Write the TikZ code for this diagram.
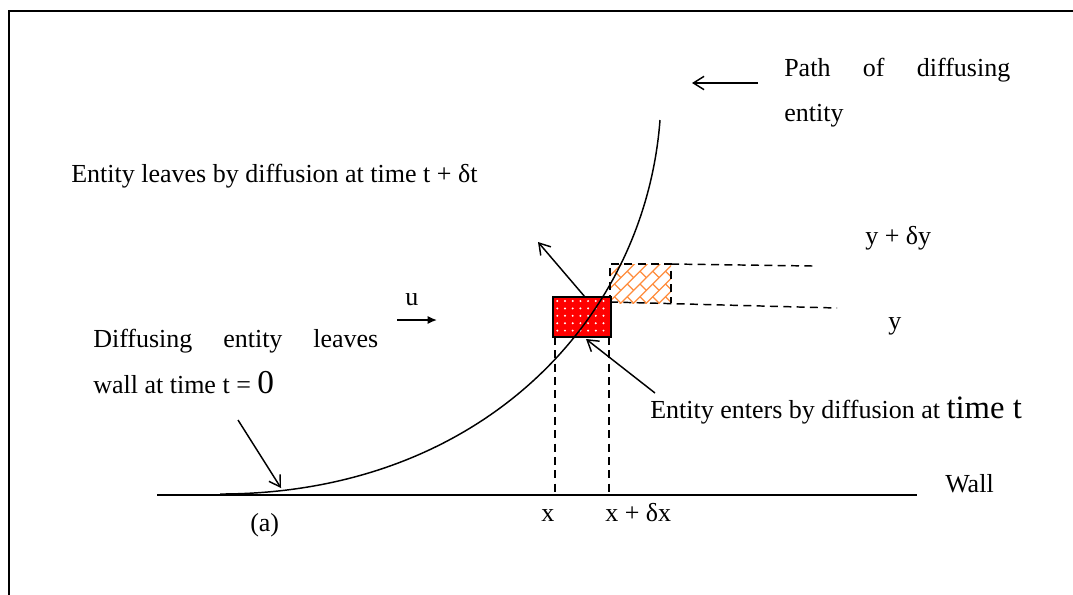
\documentclass[tikz,border=0pt]{standalone}
\usepackage{fontspec}
\setmainfont{Liberation Serif}
\usetikzlibrary{arrows.meta}
\definecolor{hatchor}{RGB}{255,140,60}
\begin{document}
\begin{tikzpicture}[x=0.75pt,y=-0.75pt,
  font=\fontsize{19.5}{23}\selectfont,
  arr/.style={-{Straight Barb[length=8pt,width=10pt]}, line width=1.1pt},
  dsh/.style={dash pattern=on 6pt off 4pt, line width=1.1pt},
  lbl/.style={anchor=base west, inner sep=0pt},
  box/.style={inner sep=0pt, outer sep=0pt}]
\useasboundingbox (0,0) rectangle (1073,594);
% frame
\draw[line width=1.6pt] (9,610) -- (9,11) -- (1090,11);
% wall
\coordinate (wl) at (157,495);
\coordinate (wr) at (917,495);
\draw[line width=1.1pt] (wl) -- (wr);
% vertical dashed lines
\coordinate (xa) at (555,337);
\coordinate (xa0) at (555,495);
\coordinate (xb) at (609,337);
\coordinate (xb0) at (609,495);
\draw[dsh] (xa) -- (xa0);
\draw[dsh, line width=1.4pt] (xb) -- (xb0);
% hatched box
\begin{scope}
  \clip (610,264) rectangle (671,303);
  \begin{scope}[shift={(640,284)}, rotate=45]
    \foreach \i in {-7,...,7} {
      \draw[hatchor, line width=0.9pt] (-80,\i*9) -- (80,\i*9);
      \foreach \j in {-5,...,5} {
        \pgfmathsetmacro{\off}{mod(\i+100,2)*9}
        \draw[hatchor, line width=0.9pt] (\j*18+\off,\i*9) -- ++(0,9);
      }
    }
  \end{scope}
\end{scope}
\node[box, minimum width=45.75pt, minimum height=29.25pt] (hatch) at (640.5,283.5) {};
\draw[dsh] (hatch.south west) -- (hatch.north west) -- (hatch.north east) -- (hatch.south east);
\coordinate (ytop) at (813,266);
\coordinate (ybot) at (837,308);
\draw[dsh] (hatch.north east) -- (ytop);
\draw[dsh] (610,302) -- (ybot);
% red box
\node[box, draw, fill=red, line width=1.3pt, minimum width=43.5pt, minimum height=30pt] (red) at (582,317) {};
\foreach \i in {0,...,6} {
  \foreach \j in {0,...,4} {
    \fill[white] (557.3+\i*7.7, 301+\j*7.4) circle (1.1);
  }
}
% path curve
\coordinate (c0) at (220,494);
\coordinate (c1) at (660,120);
\draw[line width=1.1pt] (c0) .. controls (480,494) and (645,320) .. (c1);
% arrows
\coordinate (lvs) at (538,242);
\draw[arr] (585,297) -- (lvs);
\coordinate (ent) at (655,393);
\draw[arr] (ent) -- (586,339);
\coordinate (t0) at (238,420);
\coordinate (t0e) at (281,488);
\draw[arr] (t0) -- (t0e);
\coordinate (pa) at (758,83);
\coordinate (pb) at (692,83);
\draw[arr] (pa) -- (pb);
\coordinate (ua) at (397,320);
\coordinate (ub) at (437,320);
\draw[-{Latex[length=7pt,width=6pt]}, line width=1.1pt] (ua) -- (ub);
% texts
\node[lbl] (path1) at (784,76) {\hbox to 169.5pt{Path\hfill of\hfill diffusing}};
\node[lbl] (path2) at (784,121) {entity};
\node[lbl] (leaves) at (71,182) {Entity leaves by diffusion at time t + δt};
\node[lbl] (dif1) at (93,347) {\hbox to 213.75pt{Diffusing\hfill entity\hfill leaves}};
\node[lbl] (dif2) at (93,393) {wall at time t = {\fontsize{25}{27}\selectfont 0}};
\node[lbl] (enters) at (650,418) {Entity enters by diffusion at {\fontsize{24.5}{27}\selectfont time t}};
\node[lbl] (ydy) at (865,244) {y + δy};
\node[lbl] (y) at (888,329) {y};
\node[lbl] (wall) at (945,492) {Wall};
\node[lbl] (x) at (541,521) {x};
\node[lbl] (xdx) at (605,521) {x + δx};
\node[lbl] (a) at (250,531) {(a)};
\node[lbl] (u) at (405,305) {u};
\end{tikzpicture}
\end{document}
